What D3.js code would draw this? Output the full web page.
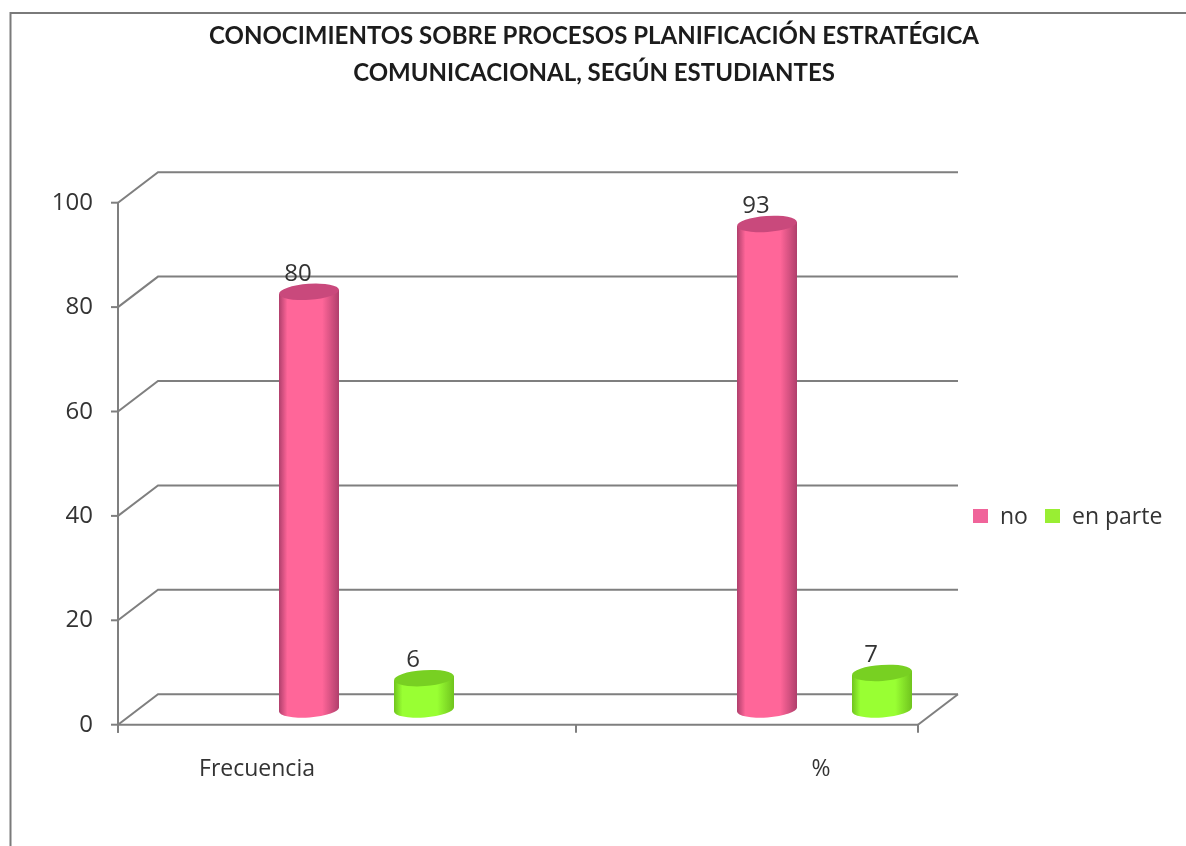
<!DOCTYPE html>
<html><head><meta charset="utf-8">
<script src="https://cdn.jsdelivr.net/npm/d3@7"></script>
<style>html,body{margin:0;padding:0;background:#fff}svg{display:block;filter:blur(.6px)}</style>
</head><body><svg id="c" width="1186" height="846"></svg>
<script>
const categories = ["Frecuencia", "%"];
const seriesNames = ["no", "en parte"];
const noValues = [80, 93];
const enParteValues = [6, 7];
const yTicks = [0, 20, 40, 60, 80, 100];
const titleLines = ["CONOCIMIENTOS SOBRE PROCESOS PLANIFICACIÓN ESTRATÉGICA", "COMUNICACIONAL, SEGÚN ESTUDIANTES"];

const svg = d3.select("#c");
const titleFont = "Lato, 'Open Sans', sans-serif";
const font = "'Open Sans', Lato, sans-serif";
const ink = "#333", grid = "#7f7f7f";
const depthX = 40, depthY = -30.5;
const y = d3.scaleLinear().domain([0, 100]).range([724.7, 202.7]);
const x0 = d3.scaleBand().domain(categories).range([118, 1034]).padding(0);
const xS = d3.scalePoint().domain(seriesNames).range([191, 306]);
const frontRight = 918;
const labelX = d3.scalePoint().domain(categories).range([257, 821]);

const defs = svg.append("defs");
function grad(id, edge, mid) {
  const g = defs.append("linearGradient").attr("id", id);
  [[0, edge], [.14, mid], [.72, mid], [1, edge]].forEach(s => g.append("stop").attr("offset", s[0]).attr("stop-color", s[1]));
}
grad("g0", "#b03f6c", "#ff6699");
grad("g1", "#70c41e", "#99ff33");
const tops = ["#c9497c", "#78d022"];

// frame
svg.append("path").attr("d", "M10.5,846V13H1186").attr("fill", "none").attr("stroke", "#7a7a7a").attr("stroke-width", 2);

// title
svg.append("g").selectAll("text").data(titleLines).join("text")
  .attr("x", 594).attr("y", (d, i) => 44 + i * 37)
  .attr("text-anchor", "middle").attr("font-family", titleFont).attr("font-weight", 700)
  .attr("font-size", 24).attr("fill", "#1c1c1c").text(d => d);

// gridlines: side wall + back wall
const gridG = svg.append("g").attr("fill", "none").attr("stroke", grid).attr("stroke-width", 2);
gridG.selectAll("path").data(yTicks).join("path")
  .attr("d", d => `M${x0.range()[0]},${y(d)}l${depthX},${depthY}H${frontRight + depthX}`);
gridG.append("path").attr("d", `M${frontRight},${y(0)}l${depthX},${depthY}`);
gridG.append("path").attr("d", `M118,${y(100)}V${y(0) + 8}`);
gridG.append("path").attr("d", `M118,${y(0)}H${frontRight}`);
gridG.selectAll("line.t").data(yTicks).join("line").attr("class", "t")
  .attr("x1", 111).attr("x2", 118).attr("y1", d => y(d)).attr("y2", d => y(d));
[x0.range()[0], x0(categories[1]), frontRight].forEach(px =>
  gridG.append("line").attr("x1", px).attr("x2", px).attr("y1", y(0)).attr("y2", y(0) + 8));

// y labels
svg.append("g").selectAll("text").data(yTicks).join("text")
  .attr("x", 93).attr("y", d => y(d) + 7).attr("text-anchor", "end")
  .attr("font-family", font).attr("font-size", 24).attr("fill", ink).text(d => d);

// x labels
svg.append("g").selectAll("text").data(categories).join("text")
  .attr("x", d => labelX(d)).attr("y", 776).attr("text-anchor", "middle")
  .attr("font-family", font).attr("font-size", 23).attr("fill", ink).text(d => d);

// cylinders
const rx = 30, ry = 8, tilt = -4;
const vals = [noValues, enParteValues];
seriesNames.forEach((s, si) => {
  categories.forEach((c, ci) => {
    const cx = x0(c) + xS(s), v = vals[si][ci];
    const yb = y(0) + depthY / 2, yt = y(v) + depthY / 2;
    const slope = Math.tan(tilt * Math.PI / 180) * rx;
    const g = svg.append("g");
    g.append("path")
      .attr("d", `M${cx - rx},${yt - slope}L${cx + rx},${yt + slope}L${cx + rx},${yb + slope}A${rx},${ry} ${tilt} 0 1 ${cx - rx},${yb - slope}Z`)
      .attr("fill", `url(#g${si})`);
    g.append("ellipse").attr("cx", cx).attr("cy", yt).attr("rx", rx).attr("ry", ry)
      .attr("transform", `rotate(${tilt} ${cx} ${yt})`).attr("fill", tops[si]);
    g.append("text").attr("x", cx - 11).attr("y", yt - 11).attr("text-anchor", "middle")
      .attr("font-family", font).attr("font-size", 24).attr("fill", ink).text(v);
  });
});

// legend
const legend = svg.append("g");
const legendX = d3.scalePoint().domain(seriesNames).range([973, 1045]);
const legendC = ["#f0649a", "#99ee33"];
legend.selectAll("rect").data(seriesNames).join("rect")
  .attr("x", d => legendX(d)).attr("y", 509).attr("width", 15).attr("height", 14)
  .attr("fill", (d, i) => legendC[i]);
legend.selectAll("text").data(seriesNames).join("text")
  .attr("x", d => legendX(d) + 27).attr("y", 524)
  .attr("font-family", font).attr("font-size", 23).attr("fill", ink).text(d => d);
</script></body></html>
